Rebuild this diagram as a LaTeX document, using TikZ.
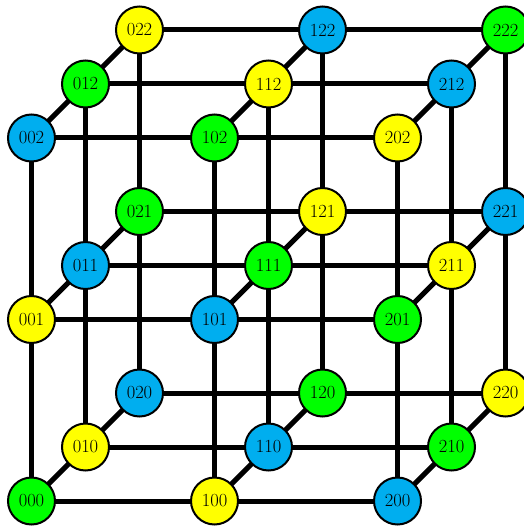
\documentclass[tikz,border=0pt]{standalone}
\usetikzlibrary{backgrounds}
\definecolor{cg}{RGB}{0,255,0}
\definecolor{cy}{RGB}{255,255,0}
\definecolor{cb}{RGB}{0,174,239}
\begin{document}
\begin{tikzpicture}[x=1pt,y=-1pt,
  vtx/.style={circle,draw=black,line width=2pt,minimum size=47pt,inner sep=0pt,font=\fontsize{18.5}{20}\selectfont},
  edge/.style={line width=5pt,black}]
\useasboundingbox (0,0) rectangle (523,526);
\foreach \i in {0,1,2}{\foreach \j in {0,1,2}{\foreach \k in {0,1,2}{
  \pgfmathtruncatemacro\s{mod(\i+\j+\k,3)}
  \ifcase\s \def\c{cg}\or \def\c{cy}\or \def\c{cb}\fi
  \node[vtx,fill=\c] (n\i\j\k) at ({31.5+183*\i+54*\j},{501-54*\j-181.5*\k}) {\i\j\k};
}}}
\begin{scope}[on background layer]
\foreach \i in {0,1,2}{\foreach \j in {0,1,2}{\foreach \k in {0,1,2}{
  \pgfmathtruncatemacro\ni{\i+1}
  \pgfmathtruncatemacro\nj{\j+1}
  \pgfmathtruncatemacro\nk{\k+1}
  \ifnum\i<2 \draw[edge] (n\i\j\k.center) -- (n\ni\j\k.center); \fi
  \ifnum\j<2 \draw[edge] (n\i\j\k.center) -- (n\i\nj\k.center); \fi
  \ifnum\k<2 \draw[edge] (n\i\j\k.center) -- (n\i\j\nk.center); \fi
}}}
\end{scope}
\end{tikzpicture}
\end{document}
